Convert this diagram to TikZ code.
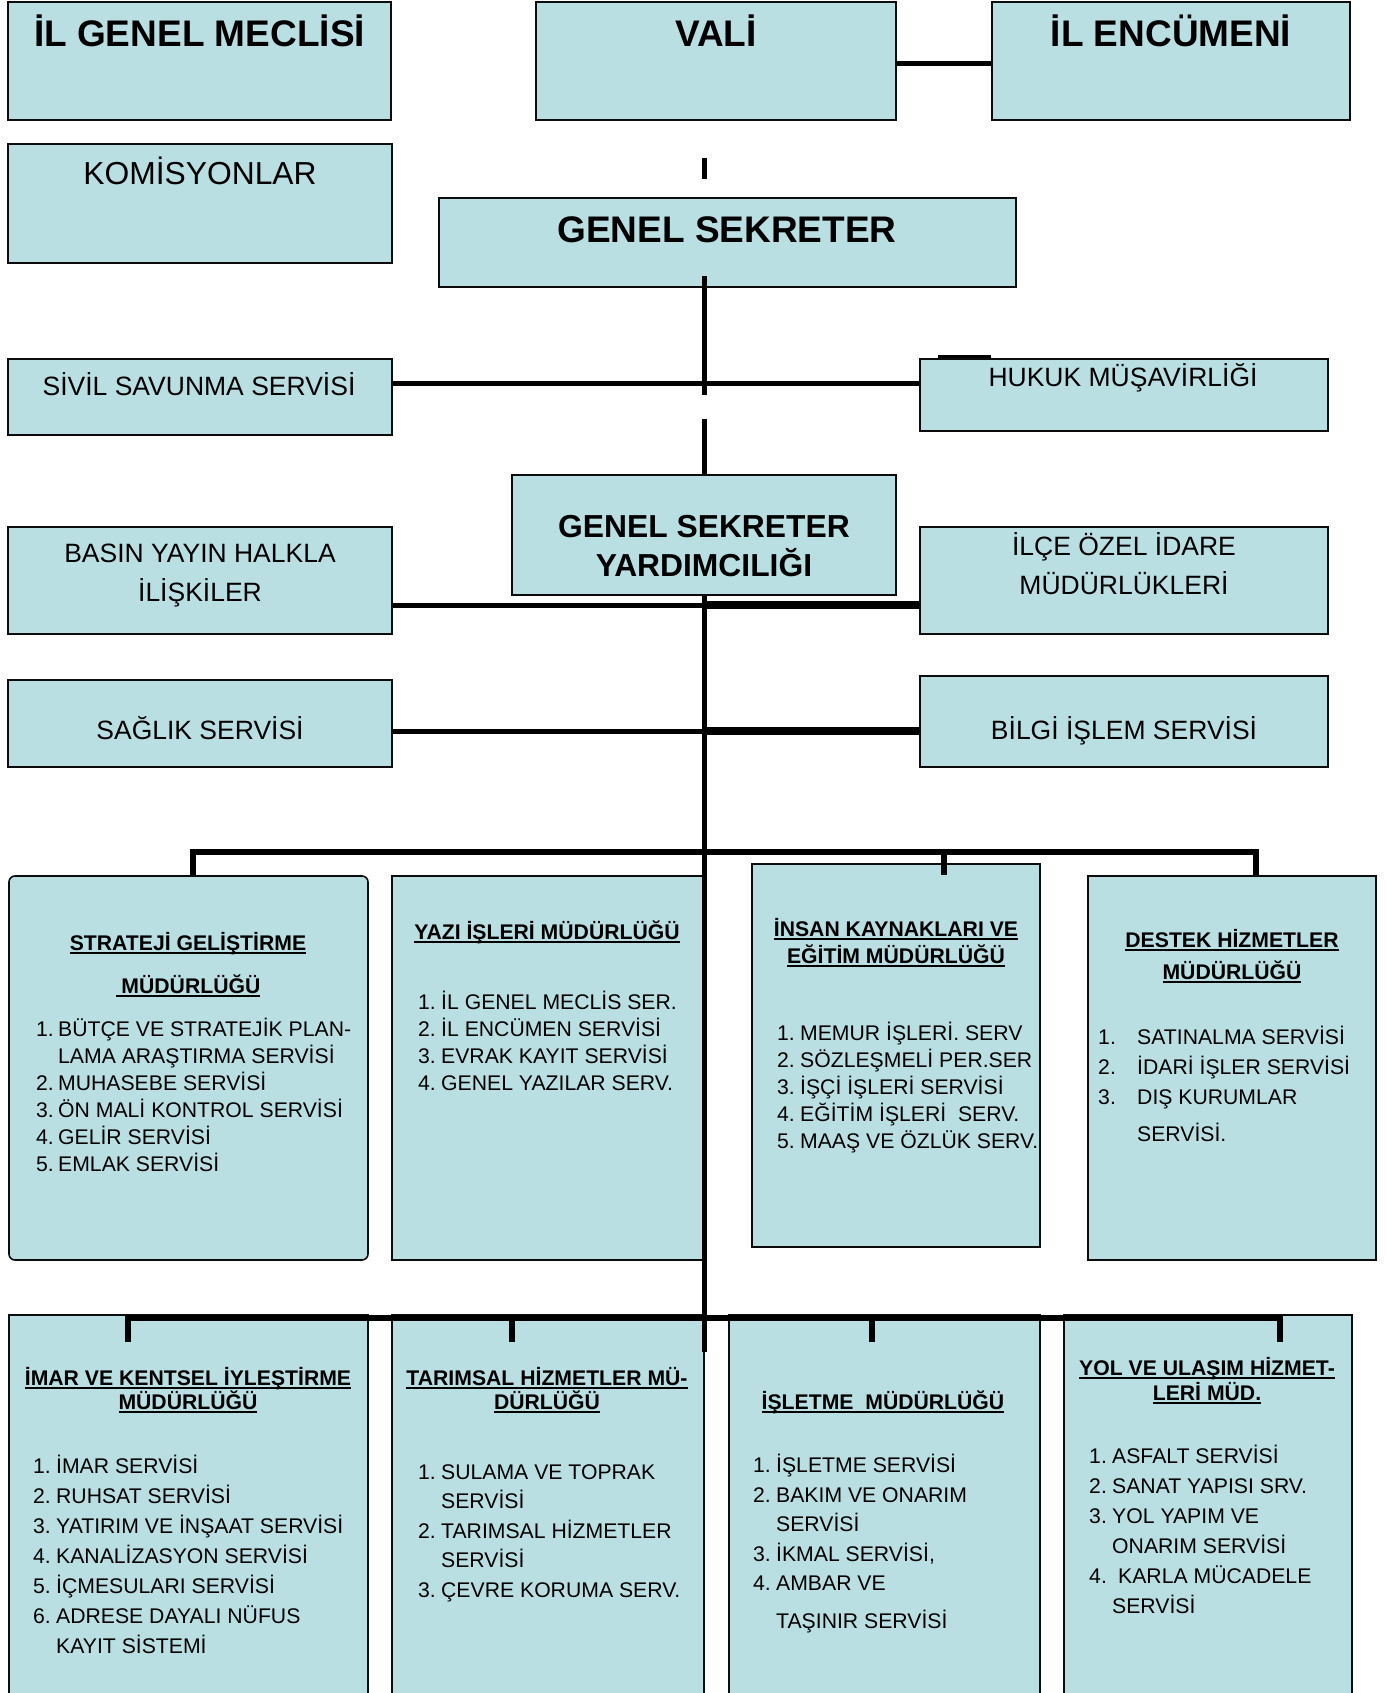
\documentclass[tikz,border=0pt]{standalone}
\usepackage{fontspec}
\setmainfont{Liberation Sans}
\usetikzlibrary{positioning,calc}
\definecolor{OrgFill}{RGB}{185,223,227}
\definecolor{OrgLine}{RGB}{12,12,12}
\newcommand{\orgnum}[2][23pt]{\makebox[#1][l]{#2}}
\newcommand{\orgul}[1]{\sbox0{#1}\rlap{\rule[-4pt]{\wd0}{1.6pt}}\usebox0}
\tikzset{
  org/box/.style={
    draw=OrgLine,
    line width=1.6pt,
    fill=OrgFill,
    inner sep=0pt
  },
  org/title/.style={font=\fontsize{37}{44}\selectfont\bfseries, anchor=base, inner sep=0pt},
  org/big/.style={font=\fontsize{31.8}{39}\selectfont, anchor=base, align=center, inner sep=0pt},
  org/label/.style={font=\fontsize{26.5}{39}\selectfont, anchor=base, align=center, inner sep=0pt},
  org/head/.style={font=\fontsize{21.2}{#1}\selectfont\bfseries, anchor=base, align=center, inner sep=0pt},
  org/head/.default=25,
  org/list/.style={font=\fontsize{21.2}{#1}\selectfont, anchor=base west, align=left, inner sep=0pt},
  org/list/.default=27,
  org/link/.style={line width=5pt, draw=black},
  org/heavy/.style={line width=8pt, draw=black},
  org/bus/.style={line width=6.5pt, draw=black}
}

\begin{document}
\begin{tikzpicture}[x=1pt,y=-1pt]
  \useasboundingbox[fill=white] (0,0) rectangle (1386,1693);

  % top row (multi-line texts sit on the baseline of their last line)
  \node[org/box, minimum width=383pt, minimum height=118pt] (meclis) at (199.5,61) {};
  \node[org/box, minimum width=360pt, minimum height=118pt] (vali) at (716,61) {};
  \node[org/box, minimum width=358pt, minimum height=118pt] (encumen) at (1171,61) {};
  \node[org/title] (meclis-t) at (199.5,47) {İL GENEL MECLİSİ};
  \node[org/title] (vali-t) at (716,47) {VALİ};
  \node[org/title] (encumen-t) at (1171,47) {İL ENCÜMENİ};

  \node[org/box, minimum width=384pt, minimum height=119pt] (komisyon) at (200,203.5) {};
  \node[org/big] (komisyon-t) at (200,185) {KOMİSYONLAR};
  \node[org/box, minimum width=577pt, minimum height=89pt] (gs) at (727.5,242.5) {};
  \node[org/title] (gs-t) at (727,243) {GENEL SEKRETER};

  % side units
  \node[org/box, minimum width=384pt, minimum height=76pt] (sivil) at (200,397) {};
  \node[org/box, minimum width=408pt, minimum height=72pt] (hukuk) at (1124,395) {};
  \node[org/label] (sivil-t) at (199,395) {SİVİL SAVUNMA SERVİSİ};
  \node[org/label] (hukuk-t) at (1123,386) {HUKUK MÜŞAVİRLİĞİ};

  \node[org/box, minimum width=384pt, minimum height=120pt] (gsy) at (704,535) {};
  \node[org/big, font=\fontsize{31.8}{39}\selectfont\bfseries] (gsy-t) at (704,576) {GENEL SEKRETER\\YARDIMCILIĞI};

  \node[org/box, minimum width=384pt, minimum height=107pt] (basin) at (200,580.5) {};
  \node[org/box, minimum width=408pt, minimum height=107pt] (ilce) at (1124,580.5) {};
  \node[org/label] (basin-t) at (200,601) {BASIN YAYIN HALKLA\\İLİŞKİLER};
  \node[org/label] (ilce-t) at (1124,594) {İLÇE ÖZEL İDARE\\MÜDÜRLÜKLERİ};

  \node[org/box, minimum width=384pt, minimum height=87pt] (saglik) at (200,723.5) {};
  \node[org/box, minimum width=408pt, minimum height=91pt] (bilgi) at (1124,721.5) {};
  \node[org/label] (saglik-t) at (200,739) {SAĞLIK SERVİSİ};
  \node[org/label] (bilgi-t) at (1124,739) {BİLGİ İŞLEM SERVİSİ};

  % directorates, upper row
  \node[org/box, rounded corners=6pt, minimum width=359pt, minimum height=384pt] (strateji) at (188.5,1068) {};
  \node[org/box, minimum width=312pt, minimum height=384pt] (yazi) at (548,1068) {};
  \node[org/box, minimum width=288pt, minimum height=383pt] (insan) at (896,1055.5) {};
  \node[org/box, minimum width=288pt, minimum height=384pt] (destek) at (1232,1068) {};

  \node[org/head=43] (strateji-h) at (188,993) {\orgul{STRATEJİ GELİŞTİRME}\\\orgul{\ MÜDÜRLÜĞÜ}};
  \node[org/list] (strateji-l) at (36,1171) {\orgnum[22pt]{1.}BÜTÇE VE STRATEJİK PLAN-\\\orgnum[22pt]{}LAMA ARAŞTIRMA SERVİSİ\\\orgnum[22pt]{2.}MUHASEBE SERVİSİ\\\orgnum[22pt]{3.}ÖN MALİ KONTROL SERVİSİ\\\orgnum[22pt]{4.}GELİR SERVİSİ\\\orgnum[22pt]{5.}EMLAK SERVİSİ};

  \node[org/head] (yazi-h) at (547,939) {\orgul{YAZI İŞLERİ MÜDÜRLÜĞÜ}};
  \node[org/list] (yazi-l) at (418,1090) {\orgnum{1.}İL GENEL MECLİS SER.\\\orgnum{2.}İL ENCÜMEN SERVİSİ\\\orgnum{3.}EVRAK KAYIT SERVİSİ\\\orgnum{4.}GENEL YAZILAR SERV.};

  \node[org/head=27] (insan-h) at (896,963) {\orgul{İNSAN KAYNAKLARI VE}\\\orgul{EĞİTİM MÜDÜRLÜĞÜ}};
  \node[org/list] (insan-l) at (777,1148) {\orgnum{1.}MEMUR İŞLERİ. SERV\\\orgnum{2.}SÖZLEŞMELİ PER.SER\\\orgnum{3.}İŞÇİ İŞLERİ SERVİSİ\\\orgnum{4.}EĞİTİM İŞLERİ\ \ SERV.\\\orgnum{5.}MAAŞ VE ÖZLÜK SERV.};

  \node[org/head=32] (destek-h) at (1232,979) {\orgul{DESTEK HİZMETLER}\\\orgul{MÜDÜRLÜĞÜ}};
  \node[org/list=30] (destek-l) at (1098,1141) {\orgnum[39pt]{1.}SATINALMA SERVİSİ\\\orgnum[39pt]{2.}İDARİ İŞLER SERVİSİ\\\orgnum[39pt]{3.}DIŞ KURUMLAR\\[7pt]\orgnum[39pt]{}SERVİSİ.};

  % directorates, lower row
  \node[org/box, minimum width=359pt, minimum height=390pt] (imar) at (188.5,1510) {};
  \node[org/box, minimum width=312pt, minimum height=390pt] (tarim) at (548,1510) {};
  \node[org/box, minimum width=311pt, minimum height=390pt] (isletme) at (884.5,1510) {};
  \node[org/box, minimum width=288pt, minimum height=390pt] (yol) at (1208,1510) {};

  \node[org/head=24] (imar-h) at (188,1409) {\orgul{İMAR VE KENTSEL İYLEŞTİRME}\\\orgul{MÜDÜRLÜĞÜ}};
  \node[org/list=30] (imar-l) at (33,1653) {\orgnum{1.}İMAR SERVİSİ\\\orgnum{2.}RUHSAT SERVİSİ\\\orgnum{3.}YATIRIM VE İNŞAAT SERVİSİ\\\orgnum{4.}KANALİZASYON SERVİSİ\\\orgnum{5.}İÇMESULARI SERVİSİ\\\orgnum{6.}ADRESE DAYALI NÜFUS\\\orgnum{}KAYIT SİSTEMİ};

  \node[org/head=24] (tarim-h) at (547,1409) {\orgul{TARIMSAL HİZMETLER MÜ-}\\\orgul{DÜRLÜĞÜ}};
  \node[org/list=29.5] (tarim-l) at (418,1597) {\orgnum{1.}SULAMA VE TOPRAK\\\orgnum{}SERVİSİ\\\orgnum{2.}TARIMSAL HİZMETLER\\\orgnum{}SERVİSİ\\\orgnum{3.}ÇEVRE KORUMA SERV.};

  \node[org/head] (isletme-h) at (883,1409) {\orgul{İŞLETME\ \ MÜDÜRLÜĞÜ}};
  \node[org/list=29.5] (isletme-l) at (753,1628) {\orgnum{1.}İŞLETME SERVİSİ\\\orgnum{2.}BAKIM VE ONARIM\\\orgnum{}SERVİSİ\\\orgnum{3.}İKMAL SERVİSİ,\\\orgnum{4.}AMBAR VE\\[8pt]\orgnum{}TAŞINIR SERVİSİ};

  \node[org/head] (yol-h) at (1207,1400) {\orgul{YOL VE ULAŞIM HİZMET-}\\\orgul{LERİ MÜD.}};
  \node[org/list=30] (yol-l) at (1089,1613) {\orgnum{1.}ASFALT SERVİSİ\\\orgnum{2.}SANAT YAPISI SRV.\\\orgnum{3.}YOL YAPIM VE\\\orgnum{}ONARIM SERVİSİ\\\orgnum{4.}\hspace{6pt}KARLA MÜCADELE\\\orgnum{}SERVİSİ};

  % junctions on the spine
  \coordinate (stub1) at (704,158);
  \coordinate (stub2) at (704,179);
  \coordinate (gsfoot) at (704,276);
  \coordinate (gap1) at (704,395);
  \coordinate (gap2) at (704,419);
  \coordinate (row1) at (704,383);
  \coordinate (row2) at (704,605);
  \coordinate (row3) at (704,731);
  \coordinate (bus1) at (704,852);
  \coordinate (bus2) at (704,1318);
  \coordinate (spine) at (704,1352);
  \coordinate (imardrop) at ([xshift=-60.5pt,yshift=-28pt]imar.north);
  \coordinate (tarimdrop) at ([xshift=-36pt,yshift=-28pt]tarim.north);
  \coordinate (isletmedrop) at ([xshift=-12.5pt,yshift=-28pt]isletme.north);
  \coordinate (yoldrop) at ([xshift=72pt,yshift=-28pt]yol.north);

  \draw[org/link] ([yshift=-3pt]vali.east) -- ([yshift=-3pt]encumen.west);
  \draw[org/link] (stub1) -- (stub2);
  \draw[org/link] (gsfoot) -- (gap1);
  \draw[org/link] (gap2) -- (gsy.north);
  \draw[org/link] (sivil.east |- row1) -- (hukuk.west |- row1);
  \draw[line width=3pt] ([xshift=19pt,yshift=2pt]hukuk.north west) -- ++(53,0);
  \draw[org/link] (basin.east |- row2) -- (row2);
  \draw[org/heavy] (row2) -- (ilce.west |- row2);
  \draw[org/link] (saglik.east |- row3) -- (row3);
  \draw[org/heavy] (row3) -- (bilgi.west |- row3);
  \draw[org/link] (gsy.south) -- (spine);

  \draw[org/bus] ([xshift=4.5pt]strateji.north) -- ([xshift=4.5pt]strateji.north |- bus1) -- ([xshift=24pt]destek.north |- bus1) -- ([xshift=24pt]destek.north);
  \draw[org/bus] ([xshift=48pt]insan.north |- bus1) -- ([xshift=48pt,yshift=-12pt]insan.north);

  \draw[org/bus] (imardrop) -- (imardrop |- bus2) -- (yoldrop |- bus2) -- (yoldrop);
  \draw[org/bus] (tarimdrop |- bus2) -- (tarimdrop);
  \draw[org/bus] (isletmedrop |- bus2) -- (isletmedrop);
\end{tikzpicture}
\end{document}
